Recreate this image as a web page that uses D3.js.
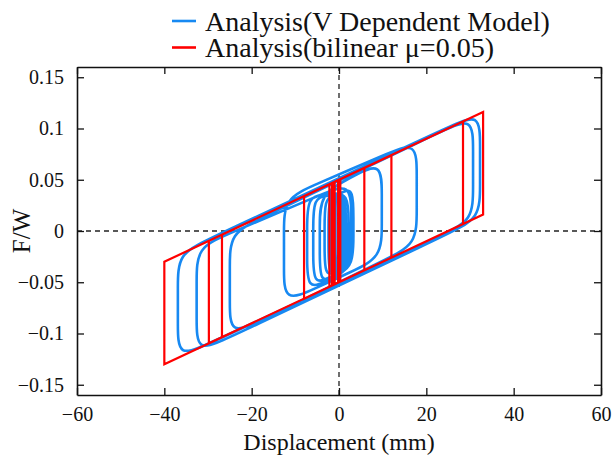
<!DOCTYPE html>
<html>
<head>
<meta charset="utf-8">
<script src="https://cdn.jsdelivr.net/npm/d3@7"></script>
<style>
  body { margin: 0; background: #fff; }
</style>
</head>
<body>
<svg id="chart" width="614" height="464"></svg>
<script>
const FONT = "'Liberation Serif', 'Times New Roman', Times, serif";

// Axis ticks
const xTicks = [-60, -40, -20, 0, 20, 40, 60];
const xTickLabels = ["\u221260", "\u221240", "\u221220", "0", "20", "40", "60"];
const yTicks = [-0.15, -0.1, -0.05, 0, 0.05, 0.1, 0.15];
const yTickLabels = ["\u22120.15", "\u22120.1", "\u22120.05", "0", "0.05", "0.1", "0.15"];
const seriesNames = ["Analysis(V Dependent Model)", "Analysis(bilinear \u03bc=0.05)"];
const seriesColors = ["#1789f2", "#ff0000"];

// Bilinear model: reversal displacements (mm) and F/W at the top / bottom of each vertical
const redStartX = [0, 0];
const redStartF = [0, 0.05];
const redRevX   = [0.3, -1.0, 0.2, -2.2, 5.8, -8.0, 12.0, -26.8, 28.4, -40.0, 33.0, -29.8, 0.1, -1.6, -0.2, -1.2];
const redRevTop = [0.0506, 0.048, 0.0504, 0.0456, 0.0616, 0.034, 0.074, -0.0036, 0.1068, -0.03, 0.116, -0.0096, 0.0502, 0.0468, 0.0496, 0.0476];
const redRevBot = [-0.0494, -0.052, -0.0496, -0.0544, -0.0384, -0.066, -0.026, -0.1036, 0.0068, -0.13, 0.016, -0.1096, -0.0498, -0.0532, -0.0504, -0.0524];
const redEndX = [-0.6];
const redEndF = [0.0488];

// Velocity dependent model: reversal displacements and F/W at the corners of each reversal
const blueStartX = [0, 0.1];
const blueStartF = [0, 0.028];
const blueRevX   = [0.8, -1.0, 1.4, -2.0, 3.3, -4.4, 9.8, -12.6, 17.8, -25.0, 30.7, -36.9, 32.3, -32.6, 2.8, -7.3, 2.2, -5.9, 1.6, -3.3, 1.2, -2.4, 0.9, -1.8, 0.7, -1.4, 0.5, -1.0, 0.3, -0.8];
const blueRevTop = [0.035, 0.032, 0.036, 0.033, 0.042, 0.036, 0.068, 0.032, 0.088, -0.002, 0.112, -0.022, 0.116, -0.016, 0.048, 0.034, 0.038, 0.033, 0.036, 0.032, 0.035, 0.031, 0.034, 0.031, 0.033, 0.031, 0.033, 0.032, 0.032, 0.032];
const blueRevBot = [-0.033, -0.037, -0.034, -0.040, -0.034, -0.052, -0.026, -0.070, -0.013, -0.102, 0.010, -0.124, 0.012, -0.119, -0.037, -0.058, -0.036, -0.053, -0.036, -0.044, -0.035, -0.042, -0.034, -0.040, -0.033, -0.038, -0.033, -0.036, -0.032, -0.035];
const blueEndX = [-0.3];
const blueEndF = [0.032];

const W = 614, H = 464;
const margin = { left: 77, right: 13, top: 67, bottom: 69 };
const svg = d3.select("#chart");

const x = d3.scaleLinear().domain([-60, 60]).range([margin.left, W - margin.right]);
const y = d3.scaleLinear().domain([-0.16, 0.16]).range([H - margin.bottom, margin.top]);

// Build the vertex list of a hysteresis path from its reversal points
function buildPath(sx, sf, rx, rt, rb, ex, ef) {
  const pts = sx.map((v, i) => [v, sf[i]]);
  rx.forEach((v, i) => {
    if (i % 2 === 0) { pts.push([v, rt[i]], [v, rb[i]]); }
    else { pts.push([v, rb[i]], [v, rt[i]]); }
  });
  ex.forEach((v, i) => pts.push([v, ef[i]]));
  return pts;
}

// Add shoulder points around each vertex so a B-spline rounds only the corners
function roundCorners(pts, r) {
  const out = [pts[0]];
  for (let i = 1; i < pts.length - 1; i++) {
    const p = pts[i], a = pts[i - 1], b = pts[i + 1];
    const da = Math.hypot(a[0] - p[0], a[1] - p[1]);
    const db = Math.hypot(b[0] - p[0], b[1] - p[1]);
    const ta = da > 0 ? Math.min(r / da, 0.45) : 0;
    const tb = db > 0 ? Math.min(r / db, 0.45) : 0;
    out.push([p[0] + (a[0] - p[0]) * ta, p[1] + (a[1] - p[1]) * ta]);
    out.push(p);
    out.push([p[0] + (b[0] - p[0]) * tb, p[1] + (b[1] - p[1]) * tb]);
  }
  out.push(pts[pts.length - 1]);
  return out;
}

const plot = svg.append("g");

// Zero reference lines
plot.append("line")
  .attr("x1", x(-60)).attr("x2", x(60)).attr("y1", y(0)).attr("y2", y(0))
  .attr("stroke", "#222").attr("stroke-width", 1.3).attr("stroke-dasharray", "5,4");
plot.append("line")
  .attr("x1", x(0)).attr("x2", x(0)).attr("y1", y(-0.16)).attr("y2", y(0.16))
  .attr("stroke", "#222").attr("stroke-width", 1.3).attr("stroke-dasharray", "5,4");

const bluePts = buildPath(blueStartX, blueStartF, blueRevX, blueRevTop, blueRevBot, blueEndX, blueEndF)
  .map(d => [x(d[0]), y(d[1])]);
const redPts = buildPath(redStartX, redStartF, redRevX, redRevTop, redRevBot, redEndX, redEndF)
  .map(d => [x(d[0]), y(d[1])]);

plot.append("path")
  .attr("d", d3.line().curve(d3.curveBasis)(roundCorners(bluePts, 34)))
  .attr("fill", "none").attr("stroke", seriesColors[0]).attr("stroke-width", 2.6)
  .attr("stroke-linejoin", "round");

plot.append("path")
  .attr("d", d3.line()(redPts))
  .attr("fill", "none").attr("stroke", seriesColors[1]).attr("stroke-width", 2.2)
  .attr("stroke-linejoin", "miter");

// Axes with inward ticks on all four sides
const tickLen = 7;
const fmtX = (d, i) => xTickLabels[i];
const fmtY = (d, i) => yTickLabels[i];

const gB = svg.append("g").attr("transform", `translate(0,${H - margin.bottom})`)
  .call(d3.axisBottom(x).tickValues(xTicks).tickFormat(fmtX).tickSizeInner(-tickLen).tickSizeOuter(0).tickPadding(12));
const gT = svg.append("g").attr("transform", `translate(0,${margin.top})`)
  .call(d3.axisTop(x).tickValues(xTicks).tickFormat("").tickSizeInner(-tickLen).tickSizeOuter(0));
const gL = svg.append("g").attr("transform", `translate(${margin.left},0)`)
  .call(d3.axisLeft(y).tickValues(yTicks).tickFormat(fmtY).tickSizeInner(-tickLen).tickSizeOuter(0).tickPadding(13));
const gR = svg.append("g").attr("transform", `translate(${W - margin.right},0)`)
  .call(d3.axisRight(y).tickValues(yTicks).tickFormat("").tickSizeInner(-tickLen).tickSizeOuter(0));

[gB, gT, gL, gR].forEach(g => {
  g.attr("font-family", FONT).attr("font-size", 20);
  g.select(".domain").attr("stroke", "#111").attr("stroke-width", 1.6);
  g.selectAll(".tick line").attr("stroke", "#111").attr("stroke-width", 1.3);
  g.selectAll(".tick text").attr("fill", "#111");
});

// Axis titles
svg.append("text").attr("x", x(0)).attr("y", 450).attr("text-anchor", "middle")
  .attr("font-family", FONT).attr("font-size", 24).attr("fill", "#111").text("Displacement (mm)");
svg.append("text").attr("transform", `translate(30,${y(0)}) rotate(-90)`)
  .attr("text-anchor", "middle").attr("font-family", FONT).attr("font-size", 25).attr("fill", "#111").text("F/W");

// Legend
const legend = svg.append("g");
seriesNames.forEach((name, i) => {
  const ly = 21 + i * 26.5;
  legend.append("line").attr("x1", 172).attr("x2", 196).attr("y1", ly).attr("y2", ly)
    .attr("stroke", seriesColors[i]).attr("stroke-width", 2.6);
  legend.append("text").attr("x", 205).attr("y", ly + 9.5).attr("font-family", FONT)
    .attr("font-size", 28).attr("fill", "#111").text(name);
});
</script>
</body>
</html>
